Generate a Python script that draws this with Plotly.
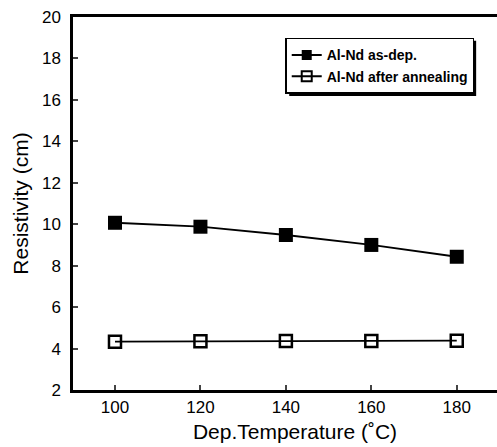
import plotly.graph_objects as go

temps = [100, 120, 140, 160, 180]
as_dep = [10.07, 9.88, 9.48, 9.0, 8.43]
annealed = [4.33, 4.35, 4.37, 4.37, 4.38]
y_ticks = [2, 4, 6, 8, 10, 12, 14, 16, 18, 20]
x_ticks = [100, 120, 140, 160, 180]
series_names = ["Al-Nd as-dep.", "Al-Nd after annealing"]

font = "Liberation Sans, Arial, sans-serif"

fig = go.Figure()
fig.add_trace(go.Scatter(
    x=temps, y=as_dep, mode="lines+markers", name=series_names[0], showlegend=False,
    line=dict(color="black", width=1.8),
    marker=dict(symbol="square", size=14, color="black"),
))
fig.add_trace(go.Scatter(
    x=temps, y=annealed, mode="lines+markers", name=series_names[1], showlegend=False,
    line=dict(color="black", width=1.8),
    marker=dict(symbol="square-open", size=12, color="black", line=dict(width=2.5)),
))
# legend entries with smaller symbols
fig.add_trace(go.Scatter(
    x=[None], y=[None], mode="lines+markers", name=series_names[0],
    line=dict(color="black", width=2),
    marker=dict(symbol="square", size=10, color="black"),
))
fig.add_trace(go.Scatter(
    x=[None], y=[None], mode="lines+markers", name=series_names[1],
    line=dict(color="black", width=2),
    marker=dict(symbol="square-open", size=10, color="black", line=dict(width=2)),
))

# legend drop shadow (decoration)
fig.add_shape(type="rect", xref="paper", yref="paper",
              x0=0.487, x1=0.908, y0=0.788, y1=0.936,
              fillcolor="black", line=dict(width=0), layer="above")

fig.update_layout(
    width=517, height=447,
    margin=dict(l=73, r=0, t=17, b=57),
    plot_bgcolor="white", paper_bgcolor="white",
    font=dict(family=font, size=17, color="black"),
    showlegend=True,
    legend=dict(
        x=0.478, y=0.944, xanchor="left", yanchor="top",
        bgcolor="white", bordercolor="black", borderwidth=1.5,
        font=dict(family=font, size=14, color="black", weight="bold"),
        tracegroupgap=0, itemwidth=30,
    ),
    xaxis=dict(
        range=[90.17, 194.1], tickvals=x_ticks, ticks="inside", ticklen=5, tickwidth=2,
        showline=True, linecolor="black", linewidth=2.5, mirror=True,
        showgrid=False, zeroline=False, ticklabelstandoff=0,
        title=dict(text="Dep.Temperature (˚C)", font=dict(size=21), standoff=9),
        tickfont=dict(size=17),
    ),
    yaxis=dict(
        range=[2, 20], tickvals=y_ticks, ticks="inside", ticklen=5, tickwidth=2,
        showline=True, linecolor="black", linewidth=2.5, mirror=False,
        showgrid=False, zeroline=False, ticklabelstandoff=6,
        title=dict(text="Resistivity (cm)", font=dict(size=21), standoff=8),
        tickfont=dict(size=17),
    ),
)

fig.write_html(
    "out.html",
    config={"displayModeBar": False},
    post_script="document.body.style.margin='0';document.body.style.overflow='hidden';",
)
